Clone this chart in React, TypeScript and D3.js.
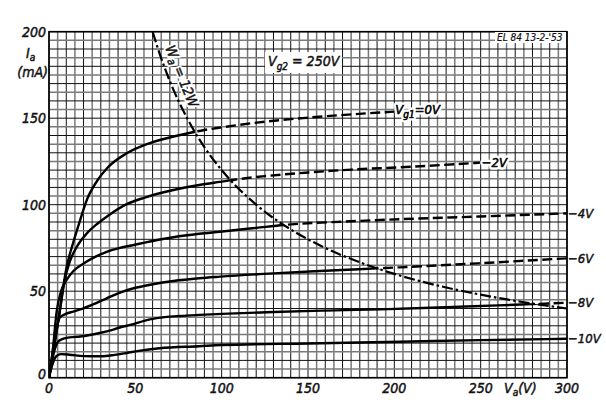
import React from 'react';
import * as d3 from 'd3';

type Pt = [number, number];

// Axis ticks
const VA_TICKS = [0, 50, 100, 150, 200, 250, 300];
const IA_TICKS = [0, 50, 100, 150, 200];
const GRID_VA = d3.range(0, 301, 5);
const GRID_IA = d3.range(0, 201, 5);

// Anode characteristics Ia (mA) vs Va (V) for Vg2 = 250 V
const VG1_0V: Pt[] = [[0, 0], [3, 18], [6, 37], [10, 63], [14, 78], [18, 91], [22, 103], [28, 114], [34, 121.5], [45, 129.7], [58, 135.5], [76, 140.3], [90, 143.2], [100, 144.7], [125, 148], [150, 150.3], [175, 152.2], [200, 153.8]];
const VG1_M2V: Pt[] = [[0, 0], [3, 18], [6, 37], [9, 56], [12, 67], [16, 75.5], [22, 83.5], [28, 89], [34, 93.5], [45, 100.3], [55, 104], [72, 108.5], [87, 111.4], [99, 113.2], [110, 114.8], [125, 116.5], [150, 118.6], [175, 120.3], [203, 121.6], [250, 124.3]];
const VG1_M4V: Pt[] = [[0, 0], [2, 14], [4.4, 38], [7, 50], [10.2, 56.5], [14, 61.5], [20, 66], [27, 70], [33.4, 72.8], [40, 74.8], [49, 76.7], [60, 79], [72, 81.2], [87, 83.2], [99, 84.4], [120, 86.6], [136, 88.3], [170, 90.2], [203, 91.6], [250, 93.2], [300, 95]];
const VG1_M6V: Pt[] = [[0, 0], [2, 14], [4, 27], [6.4, 35], [10, 37], [14, 38.2], [20, 40.1], [27, 43], [33.4, 45.9], [40, 48.8], [49, 51.7], [60, 54], [72, 55.9], [87, 57.5], [99, 58.4], [130, 60.3], [160, 61.8], [190, 63.2], [203, 63.8], [250, 66.2], [300, 69]];
const VG1_M8V: Pt[] = [[0, 0], [2, 11], [3.5, 17], [5, 20.5], [7.3, 22.2], [12, 23.3], [18, 23.8], [23.7, 24.7], [30, 26], [35, 27.2], [41, 29], [47, 30.5], [58.5, 33.7], [67, 35], [76, 35.7], [87, 36.3], [100, 36.9], [130, 38], [160, 38.8], [192, 39.5], [230, 40.8], [260, 41.8], [300, 43.3]];
const VG1_M10V: Pt[] = [[0, 0], [1.5, 6], [3.5, 11.5], [5, 13], [7, 13.6], [12, 13.3], [20, 12.5], [30, 12.4], [38, 13.2], [45, 14.3], [52, 15.5], [64, 17], [87, 18.2], [100, 18.9], [150, 19.8], [203, 20.8], [250, 21.7], [300, 22.5]];

// Max. anode dissipation Wa = 12 W
const WA_POWER_W = 12;
const WA_12W: Pt[] = [[60, 200], [65, 184.6], [70, 171.4], [80, 150], [90, 133.3], [100, 120], [120, 100], [140, 85.7], [160, 75], [180, 66.7], [200, 60], [225, 53.3], [250, 48], [275, 43.6], [300, 40]];

const CURVE_LABELS = ['0V', '−2V', '−4V', '−6V', '−8V', '−10V'];
const CURVE_DATA = [VG1_0V, VG1_M2V, VG1_M4V, VG1_M6V, VG1_M8V, VG1_M10V];

const FONT = "'DejaVu Sans Condensed', 'Liberation Sans Narrow', 'DejaVu Sans', sans-serif";

export default function App() {
  const W = 606, H = 418;
  const x = d3.scaleLinear().domain([0, 300]).range([49, 567]);
  const y = d3.scaleLinear().domain([0, 200]).range([377.7, 31.7]);
  const line = d3.line<Pt>().x(d => x(d[0])).y(d => y(d[1])).curve(d3.curveMonotoneX);

  const hyp = line(WA_12W) as string;
  const x0 = x(0) - 10, yBot = y(0) + 10, yTop = y(200) - 10;
  const xh0 = x(WA_12W[0][0]);
  const last = WA_12W[WA_12W.length - 1];
  const xEnd = x(last[0]) + 40, yhEnd = y(last[1]);
  const insidePath = `M${x0},${yBot}L${x0},${yTop}L${xh0},${yTop}L${hyp.slice(1)}L${xEnd},${yhEnd}L${xEnd},${yBot}Z`;
  const outsidePath = `M${xh0},${yTop}L${hyp.slice(1)}L${xEnd},${yhEnd}L${xEnd},${yTop - 20}Z`;

  const txt = { fontFamily: FONT, fontStyle: 'italic' as const, fill: '#111', stroke: '#111', strokeWidth: 0.45 };
  const halo = { stroke: '#fff', strokeWidth: 5, strokeLinejoin: 'round' as const, paintOrder: 'stroke' as const };

  // label position for 12W curve
  const wPt = WA_12W[2];
  const ang = 68;
  const rad = (ang * Math.PI) / 180;
  const off = 8;
  const wx = x(wPt[0]) + off * Math.sin(rad);
  const wy = y(wPt[1]) - off * Math.cos(rad);

  return (
    <svg width={W} height={H} style={{ position: 'absolute', left: 0, top: 0, background: '#fff' }}>
      <defs>
        <clipPath id="inside"><path d={insidePath} /></clipPath>
        <clipPath id="outside"><path d={outsidePath} /></clipPath>
        <clipPath id="plot"><rect x={x(0)} y={y(200)} width={x(300) - x(0)} height={y(0) - y(200)} /></clipPath>
      </defs>
      <rect width={W} height={H} fill="#fff" />
      {/* grid */}
      <g>
        {GRID_VA.map(v => (
          <line key={'v' + v} x1={x(v)} x2={x(v)} y1={y(0)} y2={y(200)}
            stroke={v % 10 === 0 ? '#111' : '#7a7a7a'} strokeWidth={v % 10 === 0 ? 1 : 1.5} />
        ))}
        {GRID_IA.map(v => (
          <line key={'h' + v} y1={y(v)} y2={y(v)} x1={x(0)} x2={x(300)}
            stroke={v % 10 === 0 ? '#111' : '#7a7a7a'} strokeWidth={v % 10 === 0 ? 1 : 1.5} />
        ))}
        <rect x={x(0)} y={y(200)} width={x(300) - x(0)} height={y(0) - y(200)} fill="none" stroke="#000" strokeWidth={1.6} />
      </g>
      {/* curves */}
      <g clipPath="url(#plot)">
        {CURVE_DATA.map((d, i) => (
          <g key={i}>
            <path d={line(d) as string} fill="none" stroke="#000" strokeWidth={2.4} clipPath="url(#inside)" />
            <path d={line(d) as string} fill="none" stroke="#000" strokeWidth={2.4} strokeDasharray="10 4.5" clipPath="url(#outside)" />
          </g>
        ))}
        <path d={hyp} fill="none" stroke="#000" strokeWidth={2.2} strokeDasharray="11 3 2.5 3" />
      </g>
      {/* Wa label */}
      <g transform={`translate(${wx},${wy}) rotate(${ang})`}>
        <text textAnchor="middle" fontSize={14} {...txt} stroke="#fff" strokeWidth={4} strokeLinejoin="round">
          <tspan>W</tspan><tspan dy={3} fontSize={11}>a</tspan><tspan dy={-3}> = {WA_POWER_W}W</tspan>
        </text>
        <text textAnchor="middle" fontSize={14} {...txt}>
          <tspan>W</tspan><tspan dy={3} fontSize={11}>a</tspan><tspan dy={-3}> = {WA_POWER_W}W</tspan>
        </text>
      </g>
      {/* y ticks */}
      {IA_TICKS.map(v => (
        <text key={'yl' + v} x={46} y={y(v) - (v === 0 ? 4 : 0)} dy="0.36em" textAnchor="end" fontSize={14} {...txt}>{v}</text>
      ))}
      {VA_TICKS.map(v => (
        <text key={'xl' + v} x={x(v)} y={393} textAnchor="middle" fontSize={14} {...txt}>{v}</text>
      ))}
      <text x={26} y={58} fontSize={14} {...txt}><tspan>I</tspan><tspan dy={3} fontSize={10}>a</tspan></text>
      <text x={48} y={77} textAnchor="end" fontSize={14} {...txt}>(mA)</text>
      <text x={504} y={393} fontSize={14} {...txt}><tspan>V</tspan><tspan dy={3} fontSize={10}>a</tspan><tspan dy={-3}>(V)</tspan></text>
      {/* Vg2 */}
      <rect x={265} y={52} width={77} height={21} fill="#fff" />
      <text x={268} y={66} fontSize={14} {...txt}><tspan>V</tspan><tspan dy={4} fontSize={10}>g2</tspan><tspan dy={-4}> = 250V</tspan></text>
      {/* title tag */}
      <rect x={495} y={32} width={71} height={11} fill="#fff" />
      <text x={497} y={41} fontSize={10} {...txt} strokeWidth={0.2}>EL 84  13-2-'53</text>
      {/* curve labels */}
      {CURVE_DATA.map((d, i) => {
        const e = d[d.length - 1];
        const inside = e[0] < 300;
        if (i === 0) {
          return (
            <g key={'cl' + i}>
              <text x={x(e[0]) + 1} y={y(e[1]) + 2} fontSize={13} {...txt} {...halo}>
                <tspan>V</tspan><tspan dy={4} fontSize={10}>g1</tspan><tspan dy={-4}>={CURVE_LABELS[i]}</tspan>
              </text>
              <text x={x(e[0]) + 1} y={y(e[1]) + 2} fontSize={13} {...txt}>
                <tspan>V</tspan><tspan dy={4} fontSize={10}>g1</tspan><tspan dy={-4}>={CURVE_LABELS[i]}</tspan>
              </text>
            </g>
          );
        }
        return (
          <g key={'cl' + i}>
            {inside && (
              <text x={x(e[0]) + 1} y={y(e[1])} dy="0.36em" fontSize={13} {...txt} {...halo}>{CURVE_LABELS[i]}</text>
            )}
            <text x={x(e[0]) + 1} y={y(e[1])} dy="0.36em" fontSize={13} {...txt}>{CURVE_LABELS[i]}</text>
          </g>
        );
      })}
    </svg>
  );
}
